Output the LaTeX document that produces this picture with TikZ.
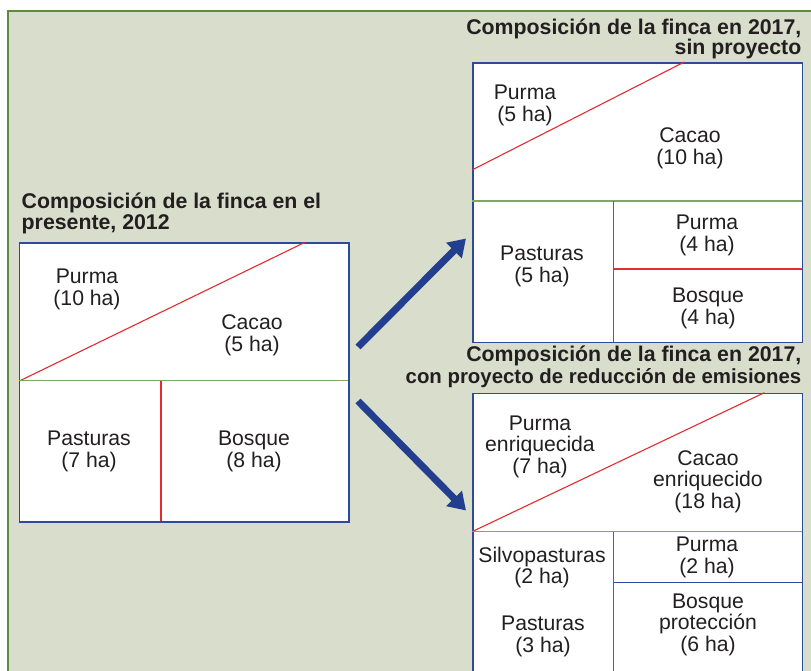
\documentclass[tikz,border=0pt]{standalone}
\usepackage{fontspec}
\setmainfont{Liberation Sans}
\usetikzlibrary{arrows.meta}
\definecolor{bgc}{HTML}{D9DDCB}
\definecolor{frameg}{HTML}{5E8C3F}
\definecolor{boxblue}{HTML}{2E4A9A}
\definecolor{arrowblue}{HTML}{233D8F}
\definecolor{lred}{HTML}{E52B2F}
\definecolor{lgreen}{HTML}{7FA766}
\definecolor{txt}{HTML}{231F20}
\begin{document}
\begin{tikzpicture}[x=1pt,y=-1pt,
  farm/.style={draw=boxblue, line width=1.6pt, fill=white, inner sep=0pt, anchor=north west},
  lab/.style={align=center, inner sep=0pt, yshift=-1.5pt, text=txt, font=\fontsize{21.2}{21.5}\selectfont},
  ttl/.style={inner sep=0pt, text=txt, font=\fontsize{21.3}{21}\selectfont\bfseries},
  redl/.style={draw=lred, line width=1.1pt},
  grnl/.style={draw=lgreen, line width=1.4pt},
  bluel/.style={draw=boxblue, line width=1.3pt},
  bigarrow/.style={draw=arrowblue, line width=7pt, -{Triangle[length=17pt,width=21pt]}}]
\useasboundingbox (0,0) rectangle (811,671);
\clip (0,0) rectangle (811,671);
\fill[white] (0,0) rectangle (811,671);
\draw[fill=bgc, draw=frameg, line width=2.6pt] (7.8,11) rectangle (830,690);

% ---- Box 1 : 2012
\node[ttl, anchor=base west] (t1a) at (21.5,208.5) {Composición de la finca en el};
\node[ttl, anchor=base west] (t1b) at (21.5,229.5) {presente, 2012};
\node[farm, minimum width=329.6pt, minimum height=279pt] (b1) at (18.7,242.3) {};
\draw[redl] (20,380.7) -- (305,242.3);
\draw[grnl] (18.7,380.7) -- (348.3,380.7);
\draw[redl] (161,380.7) -- (161,521.3);
\node[lab] (p1) at (87,288) {Purma\\(10 ha)};
\node[lab] (c1) at (252,334) {Cacao\\(5 ha)};
\node[lab] (s1) at (89,450) {Pasturas\\(7 ha)};
\node[lab] (f1) at (254,450) {Bosque\\(8 ha)};

% ---- Box 2 : 2017 sin proyecto
\node[ttl, anchor=base east] (t2a) at (801.5,34.3) {Composición de la finca en 2017,};
\node[ttl, anchor=base east] (t2b) at (801.5,54.6) {sin proyecto};
\node[farm, minimum width=329.7pt, minimum height=279.7pt] (b2) at (472,62) {};
\draw[redl] (472,170) -- (684.3,62);
\draw[grnl] (472,201) -- (801.7,201);
\draw[redl] (613.7,201) -- (613.7,341.7);
\draw[redl, line width=1.6pt] (613.7,269) -- (801.7,269);
\node[lab] (p2) at (525,104) {Purma\\(5 ha)};
\node[lab] (c2) at (690,147) {Cacao\\(10 ha)};
\node[lab] (s2) at (542,265) {Pasturas\\(5 ha)};
\node[lab] (q2) at (707,234) {Purma\\(4 ha)};
\node[lab] (f2) at (708,307) {Bosque\\(4 ha)};

% ---- Box 3 : 2017 con proyecto
\node[ttl, anchor=base east] (t3a) at (801.5,361.7) {Composición de la finca en 2017,};
\node[ttl, anchor=base east, font=\fontsize{20.4}{21}\selectfont\bfseries] (t3b) at (801.5,383.3) {con proyecto de reducción de emisiones};
\node[farm, minimum width=329.7pt, minimum height=320pt] (b3) at (472,392.7) {};
\draw[redl] (472,531.7) -- (764.3,392.7);
\draw[grnl] (472,531.7) -- (801.7,531.7);
\draw[redl] (613.7,531.7) -- (613.7,690);
\draw[bluel] (613.7,582.7) -- (801.7,582.7);
\node[lab] (p3) at (540,445) {Purma\\enriquecida\\(7 ha)};
\node[lab] (c3) at (708,480) {Cacao\\enriquecido\\(18 ha)};
\node[lab] (v3) at (542,566) {Silvopasturas\\(2 ha)};
\node[lab] (q3) at (707,556) {Purma\\(2 ha)};
\node[lab] (s3) at (543,635) {Pasturas\\(3 ha)};
\node[lab] (f3) at (708,623) {Bosque\\protección\\(6 ha)};

% ---- Arrows
\coordinate (a1s) at (358,347);
\coordinate (a1e) at (466,238.5);
\coordinate (a2s) at (358,401);
\coordinate (a2e) at (466,510.5);
\draw[bigarrow] (a1s) -- (a1e);
\draw[bigarrow] (a2s) -- (a2e);
\end{tikzpicture}
\end{document}
